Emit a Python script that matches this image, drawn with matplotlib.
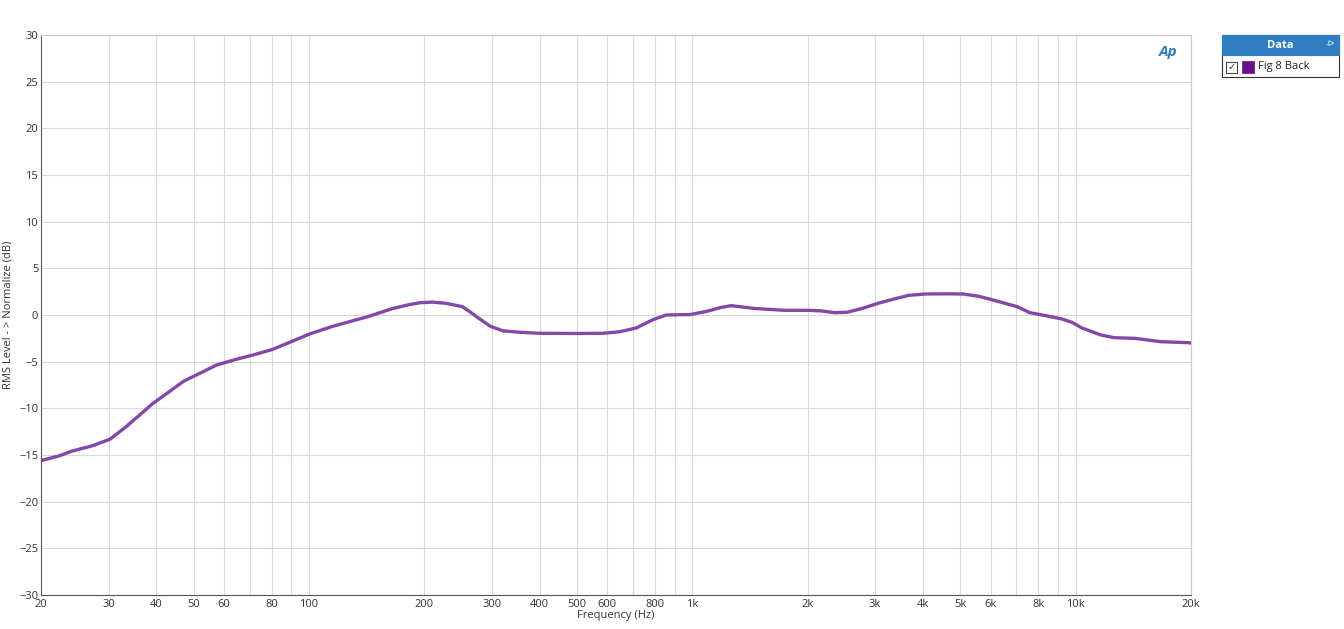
import numpy as np
import matplotlib
matplotlib.use("Agg")
import matplotlib.pyplot as plt
from matplotlib.ticker import FixedLocator, NullFormatter
from matplotlib.patches import Rectangle

# Response curve (Hz, dB)
freq_hz = [20, 22.4, 24.0, 27.3, 30.3, 33.5, 36.2, 39.1, 42.6, 47.1, 51.9, 57.4,
           64.6, 72, 80.2, 90, 100.9, 115.6, 141.8, 165.5, 182, 195, 210, 228,
           251, 262, 274, 297, 321, 355, 400, 500, 584, 645, 713, 790, 855, 988,
           1094, 1185, 1264, 1454, 1745, 1989, 2160, 2345, 2541, 2800, 3050,
           3350, 3661, 4055, 4600, 5080, 5600, 6097, 7033, 7593, 8359, 9225,
           9800, 10400, 11630, 12600, 14270, 16680, 19630, 20000]
level_db = [-15.6, -15.07, -14.6, -14.0, -13.3, -11.9, -10.7, -9.5, -8.4, -7.1,
            -6.25, -5.36, -4.75, -4.25, -3.7, -2.85, -2.0, -1.2, -0.2, 0.7, 1.1,
            1.32, 1.38, 1.25, 0.9, 0.4, -0.2, -1.2, -1.7, -1.85, -1.96, -1.98,
            -1.96, -1.8, -1.4, -0.5, 0.0, 0.05, 0.4, 0.8, 1.0, 0.7, 0.5, 0.5,
            0.45, 0.25, 0.3, 0.75, 1.25, 1.7, 2.1, 2.25, 2.27, 2.25, 2.0, 1.6,
            0.9, 0.25, -0.07, -0.43, -0.8, -1.4, -2.14, -2.43, -2.5, -2.86,
            -2.96, -3.0]

x_ticks = [20, 30, 40, 50, 60, 80, 100, 200, 300, 400, 500, 600, 800, 1000,
           2000, 3000, 4000, 5000, 6000, 8000, 10000, 20000]
x_tick_labels = ["20", "30", "40", "50", "60", "80", "100", "200", "300", "400",
                 "500", "600", "800", "1k", "2k", "3k", "4k", "5k", "6k", "8k",
                 "10k", "20k"]
x_minor = [70, 90, 700, 900, 7000, 9000]
y_ticks = list(range(-30, 31, 5))

plt.rcParams['font.family'] = ['Open Sans', 'DejaVu Sans']

fig = plt.figure(figsize=(13.44, 6.29), dpi=100)
ax = fig.add_axes([41 / 1344, 1 - 595 / 629, 1150 / 1344, 560 / 629])

ax.plot(freq_hz, level_db, color='#8447a8', lw=2.4, solid_joinstyle='round')

ax.set_xscale('log')
ax.set_xlim(20, 20000)
ax.set_ylim(-30, 30)
ax.xaxis.set_major_locator(FixedLocator(x_ticks))
ax.set_xticklabels(x_tick_labels)
ax.xaxis.set_minor_locator(FixedLocator(x_minor))
ax.xaxis.set_minor_formatter(NullFormatter())
ax.set_yticks(y_ticks)

ax.grid(True, which='both', color='#d9d9d9', lw=0.8)
ax.set_axisbelow(True)
ax.tick_params(which='both', length=0, labelsize=8, colors='#333333', pad=3)
ax.tick_params(axis='y', pad=2)

for side in ['top', 'right']:
    ax.spines[side].set_color('#c8c8c8')
for side in ['left', 'bottom']:
    ax.spines[side].set_color('#555555')

ax.set_xlabel("Frequency (Hz)", fontsize=8, color='#333333', labelpad=0)
ax.set_ylabel("RMS Level - > Normalize (dB)", fontsize=8, color='#333333', labelpad=4)

# AP logo
fig.text(1168 / 1344, 1 - 52 / 629, "Ap", fontsize=11, fontweight='bold',
         style='italic', color='#2a7fc4', ha='center', va='center')

# legend panel
lx0, ly0, lw, lh = 1222, 35, 117, 42
fig.patches.append(Rectangle((lx0 / 1344, 1 - (ly0 + lh) / 629), lw / 1344, lh / 629,
                             transform=fig.transFigure, facecolor='white',
                             edgecolor='#333333', lw=0.8))
fig.patches.append(Rectangle((lx0 / 1344, 1 - (ly0 + 20) / 629), lw / 1344, 20 / 629,
                             transform=fig.transFigure, facecolor='#2f7ebf',
                             edgecolor='#2f7ebf', lw=0.8))
fig.text((lx0 + lw / 2) / 1344, 1 - (ly0 + 10) / 629, "Data", fontsize=8,
         fontweight='bold', color='white', ha='center', va='center')
fig.text(1330 / 1344, 1 - (ly0 + 9) / 629, "-ᐅ", fontsize=6, color='white',
         ha='center', va='center')
fig.patches.append(Rectangle((1226 / 1344, 1 - 73 / 629), 11 / 1344, 11 / 629,
                             transform=fig.transFigure, facecolor='white',
                             edgecolor='#444444', lw=0.8))
fig.text(1231.5 / 1344, 1 - 67 / 629, "✓", fontsize=7, color='#333333',
         ha='center', va='center', family=['DejaVu Sans'])
fig.patches.append(Rectangle((1242 / 1344, 1 - 73 / 629), 12 / 1344, 12 / 629,
                             transform=fig.transFigure, facecolor='#6a0d8a',
                             edgecolor='#6a0d8a', lw=0.5))
fig.text(1258 / 1344, 1 - 67 / 629, "Fig 8 Back", fontsize=8, color='#222222',
         ha='left', va='center')

fig.savefig("out.png", dpi=100, facecolor='white')
